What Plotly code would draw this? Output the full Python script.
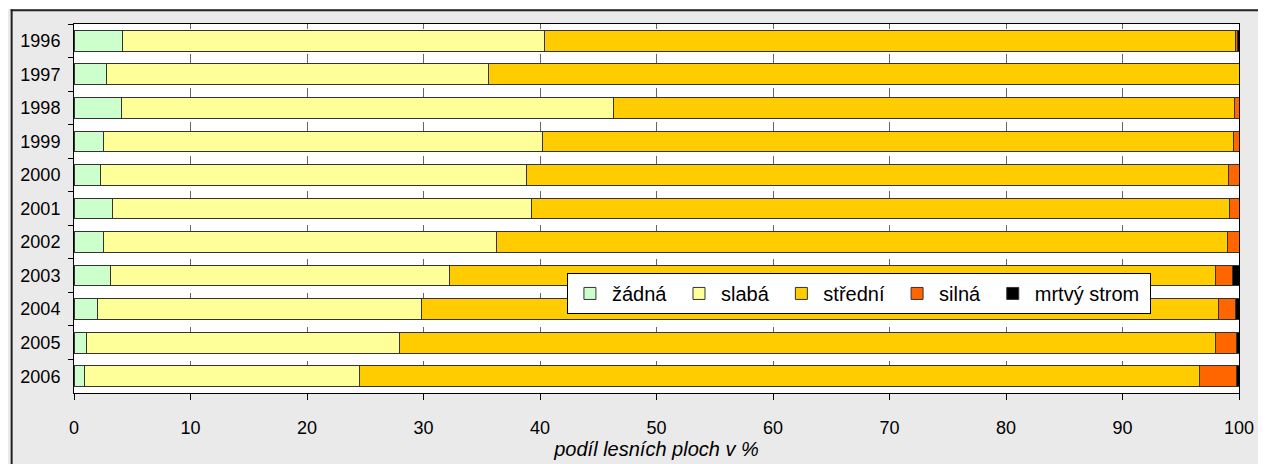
import plotly.graph_objects as go

years = ["1996", "1997", "1998", "1999", "2000", "2001", "2002", "2003", "2004", "2005", "2006"]
zadna = [4.2, 2.8, 4.1, 2.5, 2.3, 3.3, 2.5, 3.1, 2.0, 1.1, 0.9]
slaba = [36.2, 32.8, 42.2, 37.7, 36.5, 36.0, 33.8, 29.1, 27.8, 26.8, 23.6]
stredni = [59.3, 64.4, 53.3, 59.3, 60.3, 59.9, 62.7, 65.8, 68.4, 70.1, 72.1]
silna = [0.15, 0.0, 0.4, 0.5, 0.9, 0.8, 1.0, 1.4, 1.5, 1.8, 3.15]
mrtvy = [0.15, 0.0, 0.0, 0.0, 0.0, 0.0, 0.0, 0.6, 0.3, 0.2, 0.25]

series = [
    ("žádná", zadna, "#CCFFCC"),
    ("slabá", slaba, "#FFFF99"),
    ("střední", stredni, "#FFCC00"),
    ("silná", silna, "#FF6600"),
    ("mrtvý strom", mrtvy, "#000000"),
]

FONT = "Liberation Sans, Arial, sans-serif"

fig = go.Figure()
for name, vals, col in series:
    fig.add_trace(go.Bar(
        y=years, x=vals, name=name + "\u00a0", orientation="h",
        marker=dict(color=col, line=dict(color="#333333", width=1)),
    ))

# the page body adds an 8px margin; the figure starts at (8, 8) in the window
OFF = 8
W, H = 1266 - OFF, 464 - OFF
PL, PR, PT, PB = 72, 1249, 24, 399  # plot area in window pixels
L, R, T, B = PL - OFF, (W + OFF) - PR, PT - OFF, (H + OFF) - PB
pw, ph = PR - PL, PB - PT

def px2x(p):
    return (p - PL) / pw

def py2y(p):
    return (PB - p) / ph

fig.update_layout(
    width=W, height=H,
    margin=dict(l=L, r=R, t=T, b=B, pad=0),
    barmode="stack", bargap=0.384,
    paper_bgcolor="#EAEAEA", plot_bgcolor="#FFFFFF",
    font=dict(family=FONT, size=18, color="#000000"),
    showlegend=True,
    legend=dict(
        orientation="h", x=px2x(570), y=py2y(277), xanchor="left", yanchor="top",
        bgcolor="#FFFFFF", bordercolor="#000000", borderwidth=1,
        font=dict(family=FONT, size=20, color="#000000"),
        traceorder="normal", itemwidth=34,
    ),
    xaxis=dict(
        range=[0, 100], dtick=10, tick0=0,
        showline=True, linecolor="#000000", linewidth=1, mirror=True,
        ticks="outside", ticklen=6, tickcolor="#000000",
        showgrid=True, gridcolor="#666666", gridwidth=1,
        griddash="4.6px,25.5px,4px,0px",
        zeroline=False,
        tickfont=dict(family=FONT, size=18),
        ticklabelstandoff=12,
        title=dict(text="<i>podíl lesních ploch v %</i>", font=dict(family=FONT, size=20), standoff=0),
        fixedrange=True,
    ),
    yaxis=dict(
        type="category", autorange="reversed",
        showline=True, linecolor="#000000", linewidth=1, mirror=True,
        ticks="outside", ticklen=5, tickcolor="#000000", tickson="boundaries",
        showgrid=False, zeroline=False,
        tickfont=dict(family=FONT, size=18),
        ticklabelstandoff=9,
        fixedrange=True,
    ),
    shapes=[
        dict(type="rect", xref="paper", yref="paper", layer="above",
             x0=px2x(0), x1=px2x(1300), y0=py2y(9), y1=py2y(-10),
             fillcolor="#FFFFFF", line=dict(width=0)),
        dict(type="line", xref="paper", yref="paper", layer="above",
             x0=px2x(8), x1=px2x(1300), y0=py2y(10), y1=py2y(10),
             line=dict(color="#222222", width=2)),
        dict(type="line", xref="paper", yref="paper", layer="above",
             x0=px2x(9), x1=px2x(9), y0=py2y(9), y1=py2y(500),
             line=dict(color="#222222", width=2)),
    ],
)

fig.write_html("out.html")
